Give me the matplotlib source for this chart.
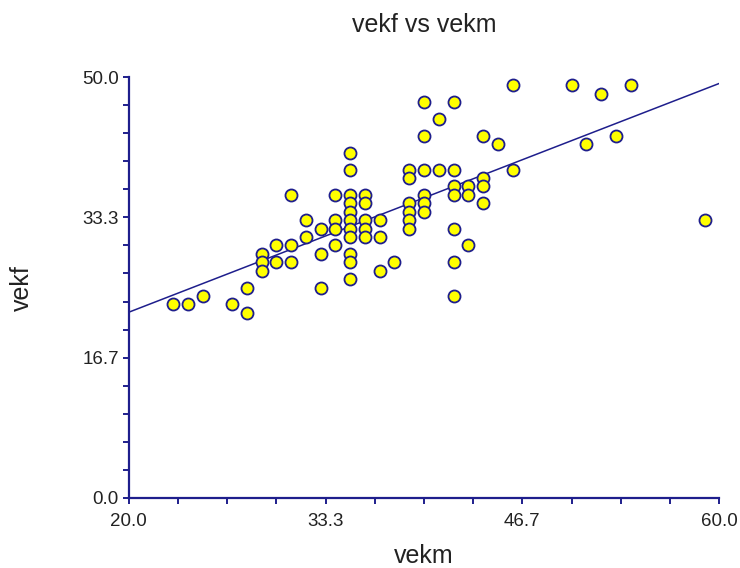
import numpy as np
import matplotlib
matplotlib.use("Agg")
import matplotlib.pyplot as plt
from matplotlib.ticker import MultipleLocator, FormatStrFormatter, FixedLocator

plt.rcParams['font.family'] = ['Liberation Sans', 'DejaVu Sans']

title = "vekf vs vekm"
x_label = "vekm"
y_label = "vekf"

vekm = [23, 24, 25, 27, 28, 28,
        29, 29, 29,
        30, 30,
        31, 31, 31,
        32, 32,
        33, 33, 33,
        34, 34, 34, 34,
        35, 35, 35, 35, 35, 35, 35, 35, 35, 35, 35,
        36, 36, 36, 36, 36,
        37, 37, 37,
        38,
        39, 39, 39, 39, 39, 39,
        40, 40, 40, 40, 40, 40,
        41, 41,
        42, 42, 42, 42, 42, 42, 42,
        43, 43, 43,
        44, 44, 44, 44,
        45,
        46, 46,
        50, 51, 52, 53, 54, 59]
vekf = [23, 23, 24, 23, 22, 25,
        29, 28, 27,
        30, 28,
        30, 28, 36,
        33, 31,
        32, 29, 25,
        36, 33, 32, 30,
        41, 39, 36, 35, 34, 33, 32, 31, 29, 28, 26,
        36, 35, 33, 32, 31,
        33, 31, 27,
        28,
        39, 38, 35, 34, 33, 32,
        47, 43, 39, 36, 35, 34,
        45, 39,
        47, 39, 37, 36, 32, 28, 24,
        37, 36, 30,
        43, 38, 37, 35,
        42,
        49, 39,
        49, 42, 48, 43, 49, 33]

x_range = [20.0, 60.0]
y_range = [0.0, 50.0]
x_major = [20.0, 100/3, 140/3, 60.0]
y_major = [0.0, 50/3, 100/3, 50.0]

navy = '#1e1e8c'

fig = plt.figure(figsize=(7.4, 5.68), dpi=100)
ax = fig.add_axes([128.7/740, 1 - 498/568, (719.3 - 128.7)/740, (498 - 77)/568])

slope, intercept = np.polyfit(vekm, vekf, 1)
xl = np.array(x_range)
ax.plot(xl, intercept + slope * xl, color=navy, lw=1.1, zorder=2)

ax.scatter(vekm, vekf, s=75, facecolor='#ffff00', edgecolor=navy,
           linewidth=1.3, zorder=3, clip_on=False)

ax.set_xlim(*x_range)
ax.set_ylim(*y_range)

for s in ['top', 'right']:
    ax.spines[s].set_visible(False)
for s in ['left', 'bottom']:
    ax.spines[s].set_color(navy)
    ax.spines[s].set_linewidth(1.6)

ax.xaxis.set_major_locator(FixedLocator(x_major))
ax.yaxis.set_major_locator(FixedLocator(y_major))
ax.xaxis.set_minor_locator(MultipleLocator(10/3))
ax.yaxis.set_minor_locator(MultipleLocator(10/3))
ax.xaxis.set_major_formatter(FormatStrFormatter('%.1f'))
ax.yaxis.set_major_formatter(FormatStrFormatter('%.1f'))

ax.tick_params(axis='both', which='both', direction='out', length=4.5,
               width=1.4, color=navy)
ax.tick_params(axis='x', which='major', labelsize=13.5, pad=6, labelcolor='#222222')
ax.tick_params(axis='y', which='major', labelsize=13.5, pad=2.5, labelcolor='#222222')

fig.text(424/740, 1 - 32/568, title, ha='center', va='baseline',
         fontsize=18, color='#222222')
fig.text(424/740, 1 - 563/568, x_label, ha='center', va='baseline',
         fontsize=18, color='#222222')
fig.text(21.5/740, 1 - 288/568, y_label, ha='center', va='center',
         rotation=90, fontsize=18, color='#222222')

fig.savefig('out.png', dpi=100)
